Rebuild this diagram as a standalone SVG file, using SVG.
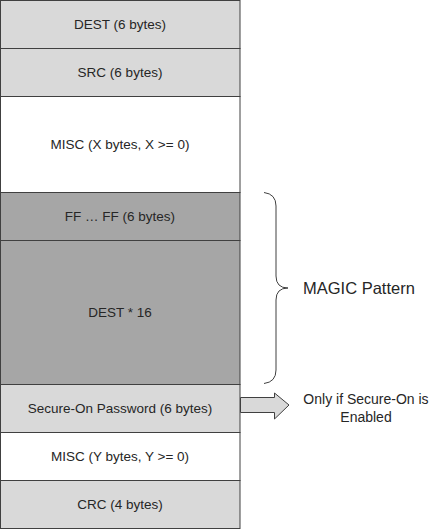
<svg xmlns="http://www.w3.org/2000/svg" width="433" height="530" viewBox="0 0 433 530">
<style>
.b{stroke:#404040;stroke-width:1}
.l{fill:#d9d9d9}.d{fill:#a6a6a6}.w{fill:#ffffff}
text{font-family:"Liberation Sans",Arial,sans-serif;font-size:13.5px;fill:#262626;text-anchor:middle}
</style>
<rect width="433" height="530" fill="#ffffff"/>
<g id="dest"><rect class="b l" x="0.5" y="0.5" width="239.5" height="48"/><text x="120" y="29">DEST (6 bytes)</text></g>
<g id="src"><rect class="b l" x="0.5" y="48.5" width="239.5" height="48"/><text x="120" y="77">SRC (6 bytes)</text></g>
<g id="miscx"><rect class="b w" x="0.5" y="96.5" width="239.5" height="96"/><text x="120" y="149">MISC (X bytes, X &gt;= 0)</text></g>
<g id="ff"><rect class="b d" x="0.5" y="192.5" width="239.5" height="48"/><text x="120" y="221">FF … FF (6 bytes)</text></g>
<g id="dest16"><rect class="b d" x="0.5" y="240.5" width="239.5" height="144"/><text x="120" y="317">DEST * 16</text></g>
<g id="secure"><rect class="b l" x="0.5" y="384.5" width="239.5" height="48"/><text x="120" y="413">Secure-On Password (6 bytes)</text></g>
<g id="miscy"><rect class="b w" x="0.5" y="432.5" width="239.5" height="48"/><text x="120" y="461">MISC (Y bytes, Y &gt;= 0)</text></g>
<g id="crc"><rect class="b l" x="0.5" y="480.5" width="239.5" height="48"/><text x="120" y="509">CRC (4 bytes)</text></g>
<g id="connectors">
<path d="M264,192.5 Q276,194 276,206 L276,276 Q276,288 288,288 Q276,288 276,300 L276,370 Q276,382 264,383.5" fill="none" stroke="#404040" stroke-width="1"/>
<path d="M240.5,397.5 L274.5,397.5 L274.5,393 L289,405 L274.5,419 L274.5,412.5 L240.5,412.5 Z" fill="#d9d9d9" stroke="#404040" stroke-width="1"/>
</g>
<g id="magic"><text x="303" y="294" style="text-anchor:start;font-size:16.5px">MAGIC Pattern</text></g>
<g id="note"><text x="366" y="404" style="font-size:14px">Only if Secure-On is</text><text x="366" y="422" style="font-size:14px">Enabled</text></g>
</svg>
